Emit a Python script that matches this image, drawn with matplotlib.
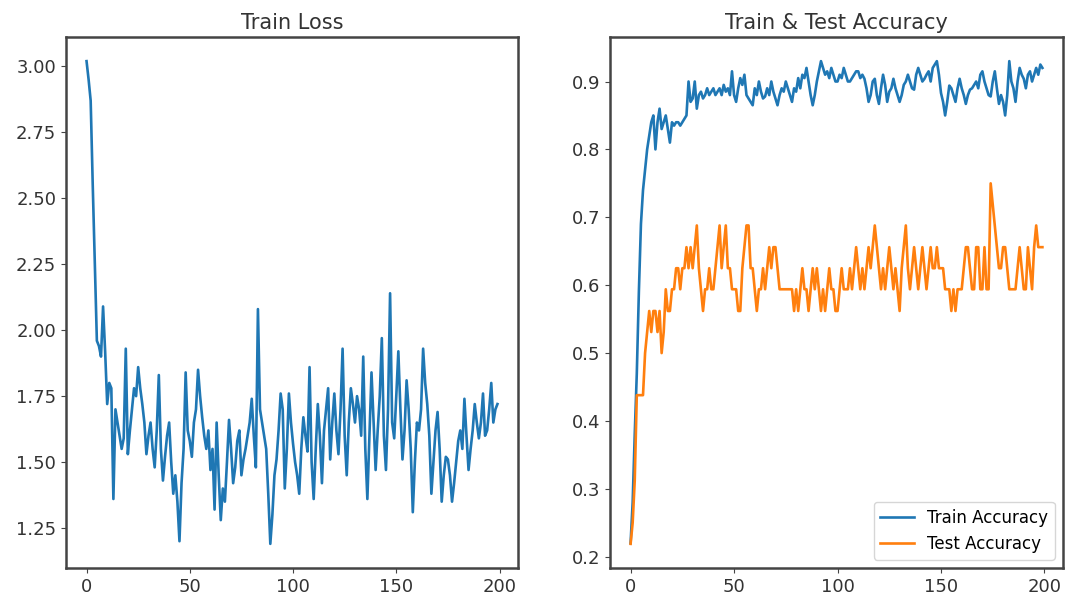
import numpy as np
import matplotlib.pyplot as plt

# values
train_loss = [
    3.02, 2.95, 2.87, 2.55, 2.25, 1.96, 1.94, 1.90, 2.09, 1.92,
    1.72, 1.80, 1.78, 1.36, 1.70, 1.65, 1.60, 1.55, 1.59, 1.93,
    1.53, 1.62, 1.70, 1.78, 1.75, 1.86, 1.78, 1.72, 1.65, 1.53,
    1.60, 1.65, 1.55, 1.48, 1.62, 1.83, 1.55, 1.43, 1.52, 1.60,
    1.65, 1.50, 1.38, 1.45, 1.35, 1.20, 1.42, 1.55, 1.84, 1.62,
    1.58, 1.52, 1.65, 1.70, 1.85, 1.75, 1.67, 1.60, 1.55, 1.62,
    1.47, 1.55, 1.32, 1.65, 1.45, 1.28, 1.40, 1.35, 1.50, 1.66,
    1.55, 1.42, 1.48, 1.58, 1.62, 1.45, 1.51, 1.55, 1.60, 1.65,
    1.74, 1.60, 1.48, 2.08, 1.70, 1.65, 1.60, 1.55, 1.38, 1.19,
    1.30, 1.45, 1.51, 1.62, 1.76, 1.70, 1.40, 1.55, 1.76, 1.65,
    1.57, 1.50, 1.45, 1.38, 1.55, 1.67, 1.60, 1.54, 1.86, 1.50,
    1.36, 1.55, 1.72, 1.60, 1.42, 1.62, 1.70, 1.78, 1.51, 1.65,
    1.76, 1.62, 1.53, 1.70, 1.93, 1.60, 1.45, 1.65, 1.78, 1.72,
    1.65, 1.75, 1.70, 1.60, 1.90, 1.55, 1.36, 1.60, 1.84, 1.65,
    1.47, 1.62, 1.75, 1.97, 1.60, 1.47, 1.70, 2.14, 1.65, 1.59,
    1.75, 1.92, 1.70, 1.51, 1.62, 1.81, 1.70, 1.55, 1.31, 1.50,
    1.65, 1.62, 1.70, 1.93, 1.80, 1.72, 1.60, 1.38, 1.50, 1.62,
    1.69, 1.55, 1.35, 1.45, 1.52, 1.51, 1.45, 1.35, 1.42, 1.50,
    1.58, 1.62, 1.55, 1.74, 1.60, 1.47, 1.55, 1.62, 1.72, 1.65,
    1.59, 1.65, 1.76, 1.60, 1.62, 1.70, 1.80, 1.65, 1.70, 1.72,
]

train_acc = [
    0.22, 0.28, 0.38, 0.47, 0.59, 0.69, 0.74, 0.77, 0.80, 0.82,
    0.84, 0.85, 0.80, 0.84, 0.86, 0.83, 0.84, 0.85, 0.83, 0.81,
    0.84, 0.835, 0.84, 0.84, 0.835, 0.84, 0.845, 0.85, 0.90, 0.87,
    0.875, 0.90, 0.86, 0.88, 0.885, 0.875, 0.88, 0.89, 0.88, 0.885,
    0.89, 0.88, 0.885, 0.89, 0.88, 0.895, 0.885, 0.89, 0.88, 0.915,
    0.88, 0.87, 0.89, 0.905, 0.895, 0.91, 0.88, 0.875, 0.87, 0.865,
    0.89, 0.88, 0.90, 0.885, 0.875, 0.878, 0.89, 0.88, 0.90, 0.885,
    0.875, 0.865, 0.88, 0.89, 0.885, 0.90, 0.89, 0.88, 0.87, 0.89,
    0.885, 0.905, 0.89, 0.91, 0.905, 0.92, 0.90, 0.88, 0.865, 0.88,
    0.90, 0.915, 0.93, 0.92, 0.91, 0.915, 0.905, 0.92, 0.91, 0.90,
    0.90, 0.91, 0.905, 0.92, 0.91, 0.90, 0.90, 0.905, 0.91, 0.915,
    0.915, 0.905, 0.91, 0.904, 0.89, 0.87, 0.88, 0.90, 0.904, 0.88,
    0.867, 0.89, 0.91, 0.895, 0.87, 0.885, 0.89, 0.904, 0.89, 0.88,
    0.87, 0.88, 0.895, 0.90, 0.91, 0.90, 0.89, 0.888, 0.91, 0.92,
    0.91, 0.90, 0.904, 0.91, 0.915, 0.90, 0.92, 0.925, 0.93, 0.91,
    0.883, 0.87, 0.85, 0.87, 0.894, 0.89, 0.88, 0.87, 0.89, 0.904,
    0.89, 0.88, 0.867, 0.88, 0.888, 0.89, 0.895, 0.90, 0.89, 0.91,
    0.915, 0.90, 0.89, 0.88, 0.878, 0.90, 0.915, 0.89, 0.867, 0.88,
    0.87, 0.85, 0.88, 0.93, 0.90, 0.89, 0.87, 0.90, 0.92, 0.91,
    0.904, 0.89, 0.91, 0.915, 0.90, 0.91, 0.92, 0.91, 0.925, 0.92,
]

test_acc = [
    0.219, 0.250, 0.312, 0.438, 0.438, 0.438, 0.438, 0.500, 0.531, 0.562,
    0.531, 0.562, 0.562, 0.531, 0.562, 0.500, 0.531, 0.594, 0.562, 0.562,
    0.594, 0.594, 0.625, 0.625, 0.594, 0.625, 0.625, 0.656, 0.625, 0.656,
    0.625, 0.656, 0.688, 0.625, 0.594, 0.562, 0.594, 0.594, 0.625, 0.594,
    0.594, 0.625, 0.656, 0.688, 0.625, 0.656, 0.688, 0.625, 0.625, 0.594,
    0.594, 0.594, 0.562, 0.562, 0.625, 0.656, 0.688, 0.688, 0.625, 0.625,
    0.594, 0.562, 0.594, 0.594, 0.625, 0.594, 0.625, 0.656, 0.625, 0.656,
    0.656, 0.625, 0.594, 0.594, 0.594, 0.594, 0.594, 0.594, 0.594, 0.562,
    0.594, 0.562, 0.594, 0.625, 0.594, 0.594, 0.562, 0.594, 0.625, 0.594,
    0.625, 0.594, 0.562, 0.594, 0.562, 0.594, 0.625, 0.594, 0.594, 0.562,
    0.562, 0.594, 0.625, 0.594, 0.594, 0.594, 0.625, 0.594, 0.625, 0.656,
    0.625, 0.594, 0.625, 0.594, 0.625, 0.656, 0.625, 0.656, 0.688, 0.656,
    0.625, 0.594, 0.625, 0.594, 0.625, 0.656, 0.625, 0.594, 0.625, 0.594,
    0.562, 0.625, 0.656, 0.688, 0.625, 0.594, 0.625, 0.656, 0.625, 0.594,
    0.625, 0.656, 0.625, 0.594, 0.625, 0.656, 0.625, 0.625, 0.656, 0.625,
    0.625, 0.625, 0.594, 0.594, 0.594, 0.562, 0.594, 0.562, 0.594, 0.594,
    0.594, 0.625, 0.656, 0.656, 0.625, 0.594, 0.594, 0.656, 0.656, 0.594,
    0.594, 0.656, 0.594, 0.594, 0.750, 0.719, 0.688, 0.656, 0.625, 0.625,
    0.656, 0.656, 0.625, 0.594, 0.594, 0.594, 0.594, 0.625, 0.656, 0.625,
    0.594, 0.594, 0.656, 0.625, 0.594, 0.656, 0.688, 0.656, 0.656, 0.656,
]

plt.rcParams["font.size"] = 13
plt.rcParams["axes.edgecolor"] = "#444444"
plt.rcParams["axes.linewidth"] = 1.8

fig = plt.figure(figsize=(10.67, 6.05), dpi=100)
W, H = 1067, 605
ax1 = fig.add_axes([66 / W, 37 / H, 452 / W, 531 / H])
ax2 = fig.add_axes([610 / W, 37 / H, 453 / W, 531 / H])

epochs = np.arange(len(train_loss))

ax1.plot(epochs, train_loss, color="tab:blue", linewidth=1.9)
ax1.set_title("Train Loss", fontsize=15, color="#333333")
ax1.set_yticks([1.25, 1.50, 1.75, 2.00, 2.25, 2.50, 2.75, 3.00])

ax2.plot(epochs, train_acc, color="tab:blue", linewidth=1.9, label="Train Accuracy")
ax2.plot(epochs, test_acc, color="tab:orange", linewidth=1.9, label="Test Accuracy")
ax2.set_title("Train & Test Accuracy", fontsize=15, color="#333333")
ax2.legend(loc="lower right", fontsize=12)

for ax in (ax1, ax2):
    ax.set_xticks([0, 50, 100, 150, 200])
    ax.tick_params(colors="#444444", labelcolor="#333333")

fig.savefig("out.png", dpi=100)
